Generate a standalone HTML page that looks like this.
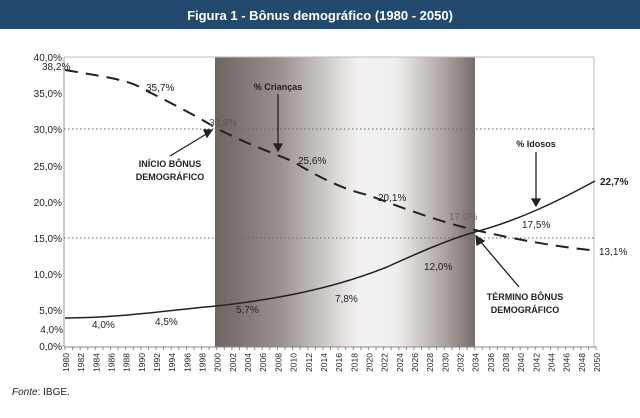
<!DOCTYPE html>
<html><head><meta charset="utf-8"><style>
html,body{margin:0;padding:0;background:#fff;width:640px;height:418px;overflow:hidden}
svg text{font-family:"Liberation Sans",sans-serif}
</style></head><body>
<svg width="640" height="418" viewBox="0 0 640 418" xmlns="http://www.w3.org/2000/svg">
<defs>
<linearGradient id="g" x1="0" x2="1" y1="0" y2="0">
<stop offset="0" stop-color="#6e6461"/>
<stop offset="0.25" stop-color="#9a918e"/>
<stop offset="0.55" stop-color="#f4f2f1"/>
<stop offset="0.7" stop-color="#f0eeed"/>
<stop offset="0.9" stop-color="#a59c99"/>
<stop offset="1" stop-color="#756b68"/>
</linearGradient>
</defs>
<rect x="0" y="0" width="640" height="29" fill="#234a6e"/>
<text x="320" y="20" text-anchor="middle" fill="#fff" font-size="13" font-weight="bold">Figura 1 - Bônus demográfico (1980 - 2050)</text>
<rect x="215" y="57" width="260" height="290" fill="url(#g)"/>
<line x1="64" y1="57" x2="594" y2="57" stroke="#bbb" stroke-width="1"/>
<line x1="594" y1="57" x2="594" y2="347" stroke="#bbb" stroke-width="1"/>
<line x1="64" y1="57" x2="64" y2="347" stroke="#999" stroke-width="1"/>
<line x1="64" y1="347" x2="596" y2="347" stroke="#888" stroke-width="1"/>
<line x1="64" y1="129" x2="594" y2="129" stroke="#666" stroke-width="1" stroke-dasharray="1.5,2.5"/>
<line x1="64" y1="238" x2="594" y2="238" stroke="#666" stroke-width="1" stroke-dasharray="1.5,2.5"/>
<g font-size="10" fill="#222" text-anchor="end">
<text x="62" y="61">40,0%</text><text x="62" y="97">35,0%</text><text x="62" y="133">30,0%</text>
<text x="62" y="170">25,0%</text><text x="62" y="206">20,0%</text><text x="62" y="242">15,0%</text>
<text x="62" y="278">10,0%</text><text x="62" y="314">5,0%</text><text x="62" y="350">0,0%</text>
<text x="63" y="333">4,0%</text>
</g>
<g stroke="#888" stroke-width="1">
<path d="M65 347v3M72.6 347v3M80.2 347v3M87.8 347v3M95.3 347v3M102.9 347v3M110.5 347v3M118.1 347v3M125.7 347v3M133.3 347v3M140.9 347v3M148.4 347v3M156 347v3M163.6 347v3M171.2 347v3M178.8 347v3M186.4 347v3M194 347v3M201.6 347v3M209.1 347v3M216.7 347v3M224.3 347v3M231.9 347v3M239.5 347v3M247.1 347v3M254.7 347v3M262.2 347v3M269.8 347v3M277.4 347v3M285 347v3M292.6 347v3M300.2 347v3M307.8 347v3M315.3 347v3M322.9 347v3M330.5 347v3M338.1 347v3M345.7 347v3M353.3 347v3M360.9 347v3M368.4 347v3M376 347v3M383.6 347v3M391.2 347v3M398.8 347v3M406.4 347v3M414 347v3M421.6 347v3M429.1 347v3M436.7 347v3M444.3 347v3M451.9 347v3M459.5 347v3M467.1 347v3M474.7 347v3M482.2 347v3M489.8 347v3M497.4 347v3M505 347v3M512.6 347v3M520.2 347v3M527.8 347v3M535.3 347v3M542.9 347v3M550.5 347v3M558.1 347v3M565.7 347v3M573.3 347v3M580.9 347v3M588.4 347v3M596 347v3"/>
</g>
<g font-size="8.5" fill="#222">
<text transform="translate(69,353) rotate(-90)" text-anchor="end">1980</text>
<text transform="translate(84.2,353) rotate(-90)" text-anchor="end">1982</text>
<text transform="translate(99.3,353) rotate(-90)" text-anchor="end">1984</text>
<text transform="translate(114.5,353) rotate(-90)" text-anchor="end">1986</text>
<text transform="translate(129.7,353) rotate(-90)" text-anchor="end">1988</text>
<text transform="translate(144.9,353) rotate(-90)" text-anchor="end">1990</text>
<text transform="translate(160,353) rotate(-90)" text-anchor="end">1992</text>
<text transform="translate(175.2,353) rotate(-90)" text-anchor="end">1994</text>
<text transform="translate(190.4,353) rotate(-90)" text-anchor="end">1996</text>
<text transform="translate(205.6,353) rotate(-90)" text-anchor="end">1998</text>
<text transform="translate(220.7,353) rotate(-90)" text-anchor="end">2000</text>
<text transform="translate(235.9,353) rotate(-90)" text-anchor="end">2002</text>
<text transform="translate(251.1,353) rotate(-90)" text-anchor="end">2004</text>
<text transform="translate(266.2,353) rotate(-90)" text-anchor="end">2006</text>
<text transform="translate(281.4,353) rotate(-90)" text-anchor="end">2008</text>
<text transform="translate(296.6,353) rotate(-90)" text-anchor="end">2010</text>
<text transform="translate(311.8,353) rotate(-90)" text-anchor="end">2012</text>
<text transform="translate(326.9,353) rotate(-90)" text-anchor="end">2014</text>
<text transform="translate(342.1,353) rotate(-90)" text-anchor="end">2016</text>
<text transform="translate(357.3,353) rotate(-90)" text-anchor="end">2018</text>
<text transform="translate(372.4,353) rotate(-90)" text-anchor="end">2020</text>
<text transform="translate(387.6,353) rotate(-90)" text-anchor="end">2022</text>
<text transform="translate(402.8,353) rotate(-90)" text-anchor="end">2024</text>
<text transform="translate(418,353) rotate(-90)" text-anchor="end">2026</text>
<text transform="translate(433.1,353) rotate(-90)" text-anchor="end">2028</text>
<text transform="translate(448.3,353) rotate(-90)" text-anchor="end">2030</text>
<text transform="translate(463.5,353) rotate(-90)" text-anchor="end">2032</text>
<text transform="translate(478.7,353) rotate(-90)" text-anchor="end">2034</text>
<text transform="translate(493.8,353) rotate(-90)" text-anchor="end">2036</text>
<text transform="translate(509,353) rotate(-90)" text-anchor="end">2038</text>
<text transform="translate(524.2,353) rotate(-90)" text-anchor="end">2040</text>
<text transform="translate(539.3,353) rotate(-90)" text-anchor="end">2042</text>
<text transform="translate(554.5,353) rotate(-90)" text-anchor="end">2044</text>
<text transform="translate(569.7,353) rotate(-90)" text-anchor="end">2046</text>
<text transform="translate(584.9,353) rotate(-90)" text-anchor="end">2048</text>
<text transform="translate(600,353) rotate(-90)" text-anchor="end">2050</text>
</g>
<path d="M65 70 C100 76,130 80,141 88 C165 100,195 115,216 128 C245 143,265 150,292 161 C320 178,345 190,368 195 C400 207,440 222,475 230 C510 238,550 246,590 250" fill="none" stroke="#222" stroke-width="2" stroke-dasharray="13,8"/>
<path d="M65 318 C120 318,170 310,216 306 C270 300,330 290,387 267 C420 252,450 239,475 232 C520 220,560 200,595 181" fill="none" stroke="#222" stroke-width="1.5"/>
<g font-size="10" fill="#222">
<text x="42" y="70">38,2%</text>
<text x="146" y="91">35,7%</text>
<text x="209" y="126" fill="#555">30,9%</text>
<text x="298" y="164">25,6%</text>
<text x="378" y="201">20,1%</text>
<text x="449" y="220" fill="#666">17,0%</text>
<text x="600" y="185" font-weight="bold">22,7%</text>
<text x="522" y="228">17,5%</text>
<text x="599" y="255">13,1%</text>
<text x="92" y="328">4,0%</text>
<text x="155" y="325">4,5%</text>
<text x="236" y="313">5,7%</text>
<text x="335" y="302">7,8%</text>
<text x="424" y="270">12,0%</text>
</g>
<g font-size="9" font-weight="bold" fill="#222" text-anchor="middle">
<text x="278" y="90">% Crianças</text>
<text x="536" y="147">% Idosos</text>
<text x="170" y="167">INÍCIO BÔNUS</text>
<text x="170" y="180">DEMOGRÁFICO</text>
<text x="525" y="300">TÉRMINO BÔNUS</text>
<text x="525" y="313">DEMOGRÁFICO</text>
</g>
<g stroke="#222" stroke-width="1.3" fill="#222">
<line x1="278" y1="94" x2="278" y2="146"/><path d="M274 144 L278 151 L282 144Z"/>
<line x1="536" y1="152" x2="536" y2="201"/><path d="M532 199 L536 206 L540 199Z"/>
<line x1="170" y1="156" x2="208" y2="133"/><path d="M204 130 L212 130 L207 137Z"/>
<line x1="519" y1="287" x2="480" y2="241"/><path d="M477 245 L476 236 L484 241Z"/>
</g>
<text x="12" y="395" font-size="10" fill="#222"><tspan font-style="italic">Fonte</tspan>: IBGE.</text>
</svg>
</body></html>
